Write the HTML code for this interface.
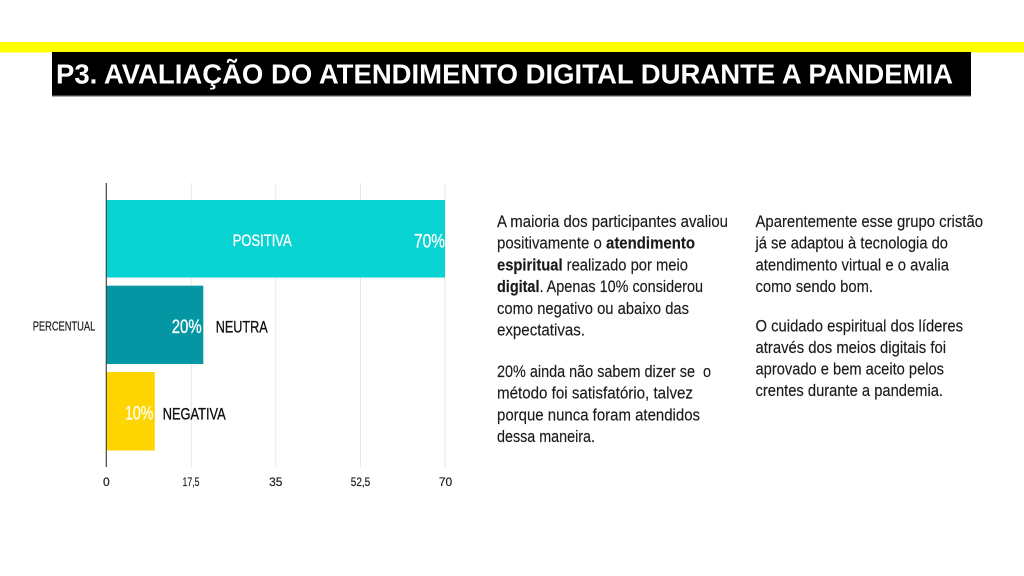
<!DOCTYPE html>
<html>
<head>
<meta charset="utf-8">
<style>
  html,body{margin:0;padding:0;background:#fff;}
  svg{display:block;}
  text{font-family:"Liberation Sans","DejaVu Sans",sans-serif;}
</style>
</head>
<body>
<svg width="1024" height="576" viewBox="0 0 1024 576" xmlns="http://www.w3.org/2000/svg">
  <rect x="0" y="0" width="1024" height="576" fill="#ffffff"/>
  <!-- yellow band -->
  <rect x="0" y="42" width="1024" height="10.5" fill="#ffff00"/>
  <!-- title box -->
  <rect x="52" y="52" width="919" height="44" fill="#000000"/>
  <rect x="52" y="95.5" width="919" height="1.2" fill="#8a8a8a"/>
  <text x="56" y="83.5" font-size="28" font-weight="bold" fill="#ffffff" textLength="897" lengthAdjust="spacingAndGlyphs">P3. AVALIAÇÃO DO ATENDIMENTO DIGITAL DURANTE A PANDEMIA</text>

  <!-- gridlines -->
  <g stroke="#e6e6e6" stroke-width="1">
    <line x1="191.3" y1="183" x2="191.3" y2="467"/>
    <line x1="275.8" y1="183" x2="275.8" y2="467"/>
    <line x1="360.5" y1="183" x2="360.5" y2="467"/>
    <line x1="445" y1="183" x2="445" y2="467"/>
  </g>

  <!-- bars -->
  <rect x="106.5" y="200" width="338.5" height="77.5" fill="#06d3d2"/>
  <rect x="106.5" y="285.7" width="96.8" height="78.3" fill="#0596a3"/>
  <rect x="106.5" y="372" width="48.3" height="78.5" fill="#ffd500"/>

  <!-- axis -->
  <line x1="106.3" y1="183" x2="106.3" y2="467" stroke="#444" stroke-width="1.2"/>

  <!-- bar labels -->
  <text x="232.7" y="246" font-size="17" fill="#ffffff" stroke="#ffffff" stroke-width="0.35" textLength="59" lengthAdjust="spacingAndGlyphs">POSITIVA</text>
  <text x="414" y="247.5" font-size="19" fill="#ffffff" stroke="#ffffff" stroke-width="0.3" textLength="31" lengthAdjust="spacingAndGlyphs">70%</text>

  <text x="171.7" y="333" font-size="19" fill="#ffffff" stroke="#ffffff" stroke-width="0.3" textLength="30" lengthAdjust="spacingAndGlyphs">20%</text>
  <text x="215.7" y="332.7" font-size="17" fill="#111111" stroke="#111111" stroke-width="0.35" textLength="52" lengthAdjust="spacingAndGlyphs">NEUTRA</text>

  <text x="125" y="419.5" font-size="19" fill="#ffffff" stroke="#ffffff" stroke-width="0.3" textLength="28.3" lengthAdjust="spacingAndGlyphs">10%</text>
  <text x="162.7" y="419.3" font-size="17" fill="#111111" stroke="#111111" stroke-width="0.35" textLength="63" lengthAdjust="spacingAndGlyphs">NEGATIVA</text>

  <text x="32.7" y="330.7" font-size="12.5" fill="#222222" stroke="#222222" stroke-width="0.2" textLength="62.6" lengthAdjust="spacingAndGlyphs">PERCENTUAL</text>

  <!-- tick labels -->
  <g font-size="12" fill="#222222" stroke="#222222" stroke-width="0.2" text-anchor="middle">
    <text x="106.3" y="486">0</text>
    <text x="191" y="486" textLength="17" lengthAdjust="spacingAndGlyphs">17,5</text>
    <text x="275.8" y="486">35</text>
    <text x="360.5" y="486" textLength="19.5" lengthAdjust="spacingAndGlyphs">52,5</text>
    <text x="445.5" y="486">70</text>
  </g>

  <!-- left column text -->
  <g font-size="17" fill="#1a1a1a" stroke="#1a1a1a" stroke-width="0.15">
    <text x="497" y="227" textLength="231" lengthAdjust="spacingAndGlyphs">A maioria dos participantes avaliou</text>
    <text x="497" y="248.7" textLength="198" lengthAdjust="spacingAndGlyphs">positivamente o <tspan font-weight="bold">atendimento</tspan></text>
    <text x="497" y="270.4" textLength="191" lengthAdjust="spacingAndGlyphs"><tspan font-weight="bold">espiritual</tspan> realizado por meio</text>
    <text x="497" y="292" textLength="206" lengthAdjust="spacingAndGlyphs"><tspan font-weight="bold">digital</tspan>. Apenas 10% considerou</text>
    <text x="497" y="313.8" textLength="192" lengthAdjust="spacingAndGlyphs">como negativo ou abaixo das</text>
    <text x="497" y="335.5" textLength="88" lengthAdjust="spacingAndGlyphs">expectativas.</text>

    <text x="497" y="377" textLength="214" lengthAdjust="spacingAndGlyphs">20% ainda não sabem dizer se&#160; o</text>
    <text x="497" y="398.7" textLength="196" lengthAdjust="spacingAndGlyphs">método foi satisfatório, talvez</text>
    <text x="497" y="420.4" textLength="203" lengthAdjust="spacingAndGlyphs">porque nunca foram atendidos</text>
    <text x="497" y="442" textLength="98" lengthAdjust="spacingAndGlyphs">dessa maneira.</text>
  </g>

  <!-- right column text -->
  <g font-size="17" fill="#1a1a1a" stroke="#1a1a1a" stroke-width="0.15">
    <text x="755.5" y="227" textLength="227.5" lengthAdjust="spacingAndGlyphs">Aparentemente esse grupo cristão</text>
    <text x="755.5" y="248.7" textLength="192.5" lengthAdjust="spacingAndGlyphs">já se adaptou à tecnologia do</text>
    <text x="755.5" y="270.4" textLength="193.5" lengthAdjust="spacingAndGlyphs">atendimento virtual e o avalia</text>
    <text x="755.5" y="292" textLength="117.5" lengthAdjust="spacingAndGlyphs">como sendo bom.</text>

    <text x="755.5" y="331.5" textLength="207.5" lengthAdjust="spacingAndGlyphs">O cuidado espiritual dos líderes</text>
    <text x="755.5" y="353" textLength="190.5" lengthAdjust="spacingAndGlyphs">através dos meios digitais foi</text>
    <text x="755.5" y="374.5" textLength="188.5" lengthAdjust="spacingAndGlyphs">aprovado e bem aceito pelos</text>
    <text x="755.5" y="396" textLength="187.5" lengthAdjust="spacingAndGlyphs">crentes durante a pandemia.</text>
  </g>
</svg>
</body>
</html>
